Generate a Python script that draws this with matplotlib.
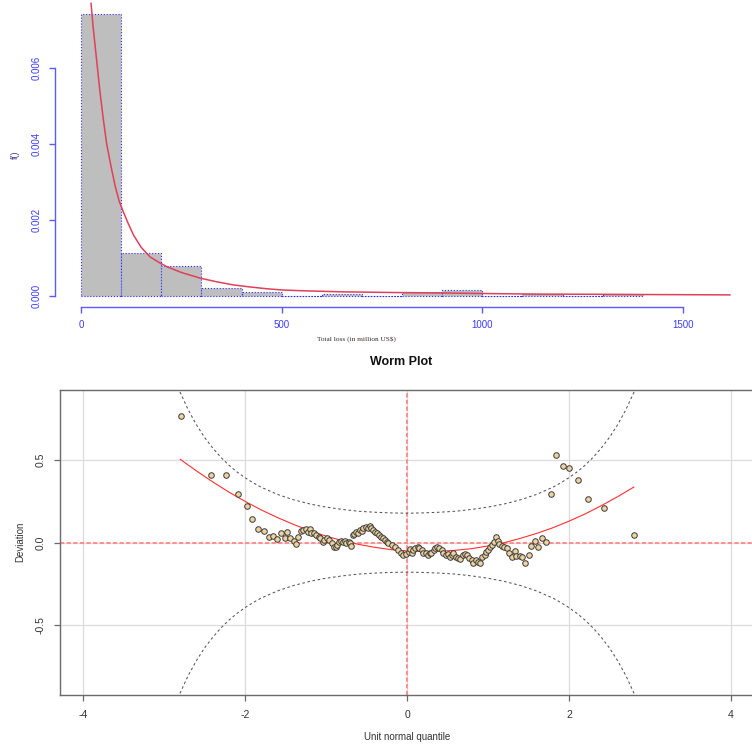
import matplotlib
matplotlib.use("Agg")
import matplotlib.pyplot as plt

plt.rcParams['font.family'] = ['Liberation Sans', 'DejaVu Sans']
plt.rcParams['axes.unicode_minus'] = False

# ---------------- data: histogram ----------------
bin_edges = [0, 100, 200, 300, 400, 500, 600, 700, 800, 900, 1000, 1100, 1200, 1300, 1400]
bin_density = [0.00742, 0.00112, 0.00078, 0.00021, 0.000105, 0.0, 0.0000526, 0.0,
               0.000105, 0.000158, 0.0, 0.0000526, 0.0, 0.0000526]
curve_x = [25, 30, 35, 40, 47, 55, 64, 75, 85, 95, 106, 118, 131, 150, 172, 195, 214, 250, 297,
           340, 381, 420, 464, 500, 547, 650, 797, 900, 1047, 1150, 1297, 1450, 1617]
curve_y = [0.0077, 0.0071, 0.0066, 0.0061, 0.0054, 0.0047, 0.0040, 0.0034, 0.0029, 0.0025,
           0.0022, 0.0019, 0.0016, 0.00128, 0.00103, 0.00088, 0.00077, 0.00062, 0.00047,
           0.00037, 0.00029, 0.00024, 0.00019, 0.00016, 0.00014, 0.00011, 0.00009,
           0.00008, 0.00006, 0.00005, 0.000045, 0.000037, 0.00003]
hist_xticks = [0, 500, 1000, 1500]
hist_yticks = [0.000, 0.002, 0.004, 0.006]

# ---------------- data: worm plot ----------------
worm_x = [-2.79, -2.42, -2.23, -2.09, -1.98, -1.91, -1.84, -1.76, -1.70, -1.65, -1.60, -1.55,
          -1.51, -1.48, -1.44, -1.40, -1.37, -1.34, -1.31, -1.28, -1.25, -1.22, -1.20, -1.18,
          -1.15, -1.12, -1.09, -1.07, -1.04, -1.02, -0.99, -0.96, -0.93, -0.90, -0.88, -0.86,
          -0.84, -0.81, -0.79, -0.77, -0.75, -0.72, -0.70, -0.69, -0.67, -0.65, -0.63, -0.60,
          -0.58, -0.56, -0.54, -0.51, -0.48, -0.46, -0.44, -0.42, -0.40, -0.37, -0.35, -0.32,
          -0.30, -0.27, -0.25, -0.23, -0.19, -0.15, -0.11, -0.08, -0.05, -0.01, 0.02, 0.04,
          0.06, 0.08, 0.10, 0.13, 0.15, 0.18, 0.20, 0.23, 0.26, 0.28, 0.30, 0.33, 0.35, 0.37,
          0.40, 0.43, 0.45, 0.48, 0.50, 0.53, 0.55, 0.57, 0.60, 0.63, 0.65, 0.69, 0.72, 0.74,
          0.77, 0.80, 0.82, 0.85, 0.88, 0.90, 0.92, 0.96, 0.98, 1.00, 1.02, 1.05, 1.07, 1.10,
          1.12, 1.14, 1.17, 1.20, 1.23, 1.26, 1.29, 1.33, 1.35, 1.39, 1.42, 1.46, 1.50, 1.53,
          1.58, 1.62, 1.67, 1.72, 1.78, 1.84, 1.92, 2.00, 2.11, 2.24, 2.43, 2.80]
worm_y = [0.768, 0.408, 0.411, 0.295, 0.224, 0.142, 0.081, 0.073, 0.034, 0.040, 0.020, 0.058,
          0.030, 0.065, 0.030, 0.008, -0.006, 0.033, 0.072, 0.077, 0.081, 0.067, 0.081, 0.060,
          0.057, 0.047, 0.036, 0.026, 0.006, 0.016, 0.026, 0.016, -0.004, -0.024, -0.028, -0.014,
          0.006, 0.012, 0.002, 0.010, 0.000, 0.006, -0.004, -0.020, 0.047, 0.053, 0.067, 0.060,
          0.077, 0.073, 0.087, 0.097, 0.087, 0.100, 0.087, 0.077, 0.067, 0.057, 0.047, 0.036,
          0.026, 0.016, 0.006, -0.004, -0.014, -0.028, -0.044, -0.064, -0.074, -0.068, -0.054, -0.040,
          -0.064, -0.044, -0.034, -0.024, -0.034, -0.044, -0.060, -0.064, -0.074, -0.064, -0.060, -0.044,
          -0.034, -0.024, -0.034, -0.044, -0.064, -0.074, -0.068, -0.085, -0.074, -0.064, -0.085, -0.093,
          -0.099, -0.074, -0.068, -0.074, -0.094, -0.105, -0.120, -0.105, -0.119, -0.121, -0.085, -0.074,
          -0.054, -0.044, -0.028, -0.014, 0.006, 0.036, 0.012, -0.008, -0.020, -0.028, -0.034, -0.060,
          -0.085, -0.050, -0.080, -0.080, -0.088, -0.121, -0.074, -0.018, 0.010, -0.026, 0.027, 0.006,
          0.293, 0.529, 0.466, 0.450, 0.379, 0.263, 0.208, 0.047]
fit_x = [-2.8, -2.6, -2.4, -2.2, -2.0, -1.8, -1.6, -1.4, -1.2, -1.0, -0.8, -0.6, -0.4, -0.2, 0.0,
         0.2, 0.4, 0.6, 0.8, 1.0, 1.2, 1.4, 1.6, 1.8, 2.0, 2.2, 2.4, 2.6, 2.8]
fit_y = [0.504, 0.434, 0.368, 0.306, 0.250, 0.198, 0.152, 0.110, 0.072, 0.040, 0.012, -0.010,
         -0.028, -0.042, -0.050, -0.054, -0.052, -0.046, -0.036, -0.020, 0.000, 0.026, 0.056,
         0.090, 0.130, 0.174, 0.224, 0.278, 0.336]
band_x = [-3.0, -2.9, -2.8, -2.7, -2.6, -2.5, -2.4, -2.3, -2.2, -2.1, -2.0, -1.9, -1.8, -1.6,
          -1.4, -1.2, -1.0, -0.8, -0.6, -0.4, -0.2, 0.0, 0.2, 0.4, 0.6, 0.8, 1.0, 1.2, 1.4, 1.6,
          1.8, 1.9, 2.0, 2.1, 2.2, 2.3, 2.4, 2.5, 2.6, 2.7, 2.8, 2.9, 3.0]
band_upper = [1.178, 1.031, 0.908, 0.802, 0.713, 0.637, 0.573, 0.517, 0.469, 0.428, 0.393, 0.362,
              0.335, 0.292, 0.259, 0.234, 0.215, 0.201, 0.190, 0.184, 0.180, 0.178, 0.180, 0.184,
              0.190, 0.201, 0.215, 0.234, 0.259, 0.292, 0.335, 0.362, 0.393, 0.428, 0.469, 0.517,
              0.573, 0.637, 0.713, 0.802, 0.908, 1.031, 1.178]
band_lower = [-v for v in band_upper]
worm_xticks = [-4, -2, 0, 2, 4]
worm_yticks = [-0.5, 0.0, 0.5]

W, H = 752, 746
fig = plt.figure(figsize=(W / 100, H / 100), dpi=100)

def fx(px):
    return px / W

def fy(py):
    return 1 - py / H

# ================= top histogram =================
blue_line = '#5A5AFF'
blue_text = '#3C3CFF'
ax1 = fig.add_axes([fx(55), fy(307), fx(752) - fx(55), fy(0) - fy(307)])
widths = [bin_edges[i + 1] - bin_edges[i] for i in range(len(bin_density))]
ax1.bar(bin_edges[:-1], bin_density, width=widths, align='edge', color='#BEBEBE',
        edgecolor='#3030FF', linewidth=0.8, linestyle=':')
ax1.plot(curve_x, curve_y, color='#E0405A', lw=1.1)
ax1.set_xlim(-64.8, 1672)
ax1.set_ylim(-0.000289, 0.00779)
for s in ['top', 'right']:
    ax1.spines[s].set_visible(False)
ax1.spines['left'].set_bounds(0, 0.006)
ax1.spines['bottom'].set_bounds(0, 1500)
for s in ['left', 'bottom']:
    ax1.spines[s].set_color(blue_line)
    ax1.spines[s].set_linewidth(1.0)
ax1.set_xticks(hist_xticks)
ax1.set_xticklabels([str(v) for v in hist_xticks])
ax1.set_yticks(hist_yticks)
ax1.set_yticklabels(['%.3f' % v for v in hist_yticks], rotation=90, va='center')
ax1.tick_params(axis='both', colors=blue_line, labelcolor=blue_text, labelsize=7,
                length=4.5, width=1.0, direction='out', pad=5)
fig.text(fx(356), fy(339), 'Total loss (in million US$)', fontsize=5.2,
         family=['Liberation Serif', 'DejaVu Serif'], color='#3a2a2a', ha='center', va='center')
fig.text(fx(15), fy(155), 'f()', fontsize=6.5, color='#404090', rotation=90,
         ha='center', va='center')

# ================= worm plot =================
ax2 = fig.add_axes([fx(60), fy(695), fx(752) - fx(60), fy(390) - fy(695)])
ax2.set_xlim(-4.284, 4.259)
ax2.set_ylim(-0.921, 0.923)
for v in worm_xticks:
    ax2.axvline(v, color='#DCDCDC', lw=0.9, zorder=0)
for v in worm_yticks:
    ax2.axhline(v, color='#DCDCDC', lw=0.9, zorder=0)
ax2.axvline(0, color='#FF8E8E', lw=1.4, dashes=(2.2, 1.2), zorder=1)
ax2.axhline(0, color='#FF8E8E', lw=1.4, dashes=(2.2, 1.2), zorder=1)
ax2.plot(band_x, band_upper, color='#555555', lw=0.75, dashes=(2.5, 2.5), zorder=2)
ax2.plot(band_x, band_lower, color='#555555', lw=0.75, dashes=(2.5, 2.5), zorder=2)
ax2.plot(fit_x, fit_y, color='#FF3030', lw=0.8, zorder=3)
ax2.scatter(worm_x, worm_y, s=16, facecolor='#EDD3A0', edgecolor='#3a3a3a',
            linewidths=0.7, zorder=4)
ax2.spines['right'].set_visible(False)
for s in ['top', 'left', 'bottom']:
    ax2.spines[s].set_color('#6a6a6a')
    ax2.spines[s].set_linewidth(1.0)
ax2.set_xticks(worm_xticks)
ax2.set_xticklabels([str(v) for v in worm_xticks])
ax2.set_yticks(worm_yticks)
ax2.set_yticklabels(['%.1f' % v for v in worm_yticks], rotation=90, va='center')
ax2.tick_params(axis='both', colors='#6a6a6a', labelcolor='#333333', labelsize=7.5,
                length=4.5, width=0.9, direction='out', pad=6)
fig.text(fx(401), fy(362), 'Worm Plot', fontsize=9, fontweight='bold', color='#111111',
         ha='center', va='center')
fig.text(fx(407), fy(737), 'Unit normal quantile', fontsize=7, color='#333333',
         ha='center', va='center')
fig.text(fx(20), fy(542), 'Deviation', fontsize=7, color='#333333', rotation=90,
         ha='center', va='center')

fig.savefig('out.png', dpi=100)
